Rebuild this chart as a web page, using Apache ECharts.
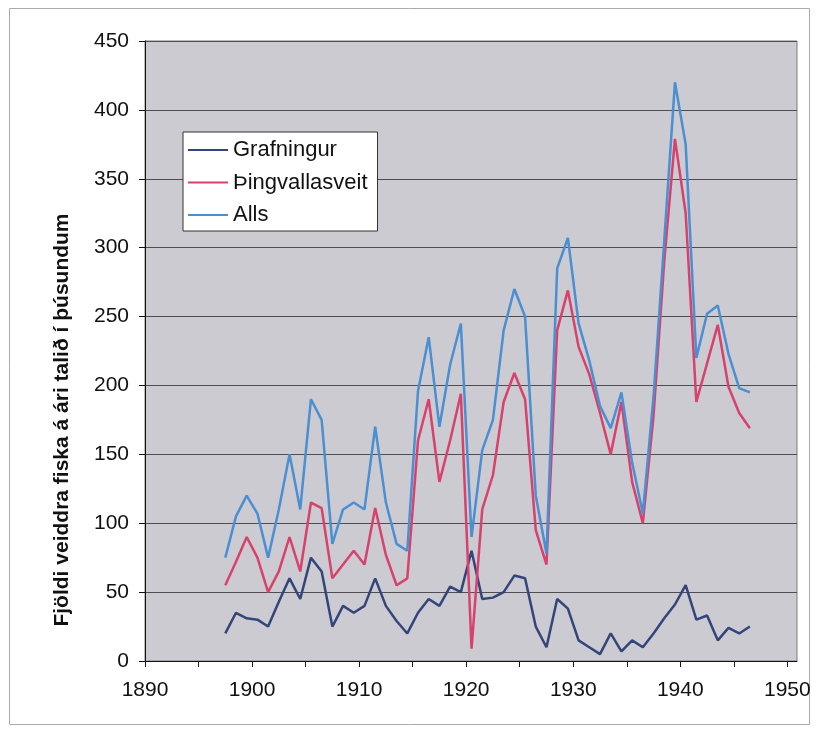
<!DOCTYPE html>
<html>
<head>
<meta charset="UTF-8">
<title>Fjöldi veiddra fiska</title>
<script src="https://cdn.jsdelivr.net/npm/echarts@6/dist/echarts.min.js"></script>
<style>
  html, body { margin: 0; padding: 0; background: #fff; }
  #chart { width: 817px; height: 732px; }
</style>
</head>
<body>
<div id="chart"></div>
<script>
// ár (hvert gildi teiknað um mitt ár)
var years = [1897, 1898, 1899, 1900, 1901, 1902, 1903, 1904, 1905, 1906,
             1907, 1908, 1909, 1910, 1911, 1912, 1913, 1914, 1915, 1916,
             1917, 1918, 1919, 1920, 1921, 1922, 1923, 1924, 1925, 1926,
             1927, 1928, 1929, 1930, 1931, 1932, 1933, 1934, 1935, 1936,
             1937, 1938, 1939, 1940, 1941, 1942, 1943, 1944, 1945, 1946];
var grafningur = [20, 35, 31, 30, 25, 43, 60, 45, 75, 65,
                  25, 40, 35, 40, 60, 40, 29, 20, 35, 45,
                  40, 54, 50, 80, 45, 46, 50, 62, 60, 25,
                  10, 45, 38, 15, 10, 5, 20, 7, 15, 10,
                  20, 31, 41, 55, 30, 33, 15, 24, 20, 25];
var thingvallasveit = [55, 72, 90, 75, 50, 65, 90, 65, 115, 111,
                       60, 70, 80, 70, 111, 77, 55, 60, 160, 190,
                       130, 160, 194, 9, 110, 135, 188, 209, 190, 95,
                       70, 240, 269, 228, 208, 180, 150, 188, 130, 100,
                       178, 290, 379, 325, 188, 216, 244, 199, 180, 169];
var alls = [75, 105, 120, 107, 75, 110, 150, 110, 190, 175,
            85, 110, 115, 110, 170, 115, 85, 80, 196, 235,
            170, 215, 245, 90, 153, 175, 240, 270, 250, 120,
            78, 285, 307, 245, 218, 185, 169, 195, 144, 107,
            192, 305, 420, 375, 220, 252, 258, 223, 198, 195];
var xTicks = [1890, 1895, 1900, 1905, 1910, 1915, 1920, 1925, 1930, 1935, 1940, 1945, 1950];
var xLabels = [1890, 1900, 1910, 1920, 1930, 1940, 1950];

function pairs(vals) {
    return years.map(function (y, i) { return [y + 0.5, vals[i]]; });
}

var font = '"Liberation Sans", Arial, sans-serif';
var myChart = echarts.init(document.getElementById('chart'));
var option = {
    backgroundColor: '#fff',
    animation: false,
    textStyle: { fontFamily: font },
    grid: {
        left: 145, right: 20, top: 41, bottom: 71,
        show: true,
        backgroundColor: '#cbcbd1',
        borderColor: '#7a7a80',
        borderWidth: 1
    },
    legend: {
        orient: 'vertical',
        left: 183, top: 132,
        padding: [7, 10, 5, 5],
        itemGap: 10.5,
        itemWidth: 40,
        itemHeight: 2,
        icon: 'rect',
        backgroundColor: '#fff',
        borderColor: '#333',
        borderWidth: 1,
        borderRadius: 0,
        textStyle: { fontFamily: font, fontSize: 22, lineHeight: 21, color: '#111' },
        data: ['Grafningur', 'Þingvallasveit', 'Alls']
    },
    xAxis: {
        type: 'value',
        min: 1890, max: 1950.9,
        axisLine: { lineStyle: { color: '#111', width: 1 } },
        axisTick: { show: true, length: 6, customValues: xTicks, lineStyle: { color: '#111' } },
        axisLabel: {
            customValues: xLabels, margin: 19,
            fontFamily: font, fontSize: 21, color: '#111',
            formatter: function (v) { return String(v); }
        },
        splitLine: { show: false }
    },
    yAxis: {
        type: 'value',
        min: 0, max: 450, interval: 50,
        axisLine: { show: true, lineStyle: { color: '#111', width: 1 } },
        axisTick: { show: true, length: 6, lineStyle: { color: '#111' } },
        axisLabel: { margin: 16, fontFamily: font, fontSize: 21, color: '#111' },
        splitLine: { show: true, lineStyle: { color: '#4e4e52', width: 1 } }
    },
    graphic: [
        {
            type: 'rect',
            shape: { x: 9.5, y: 8.5, width: 800, height: 716 },
            style: { fill: 'none', stroke: '#aaa', lineWidth: 1 },
            silent: true
        },
        {
            type: 'text',
            x: 62, y: 420,
            rotation: Math.PI / 2,
            style: {
                text: 'Fjöldi veiddra fiska á ári talið í þúsundum',
                font: 'bold 21px ' + font,
                fill: '#111',
                textAlign: 'center',
                textVerticalAlign: 'middle'
            }
        }
    ],
    series: [
        {
            name: 'Grafningur', type: 'line', symbol: 'none',
            itemStyle: { color: '#34457a' },
            lineStyle: { color: '#34457a', width: 2.5 },
            data: pairs(grafningur)
        },
        {
            name: 'Þingvallasveit', type: 'line', symbol: 'none',
            itemStyle: { color: '#d8416c' },
            lineStyle: { color: '#d8416c', width: 2.5 },
            data: pairs(thingvallasveit)
        },
        {
            name: 'Alls', type: 'line', symbol: 'none',
            itemStyle: { color: '#4b8fd2' },
            lineStyle: { color: '#4b8fd2', width: 2.5 },
            data: pairs(alls)
        }
    ]
};
myChart.setOption(option);
</script>
</body>
</html>
